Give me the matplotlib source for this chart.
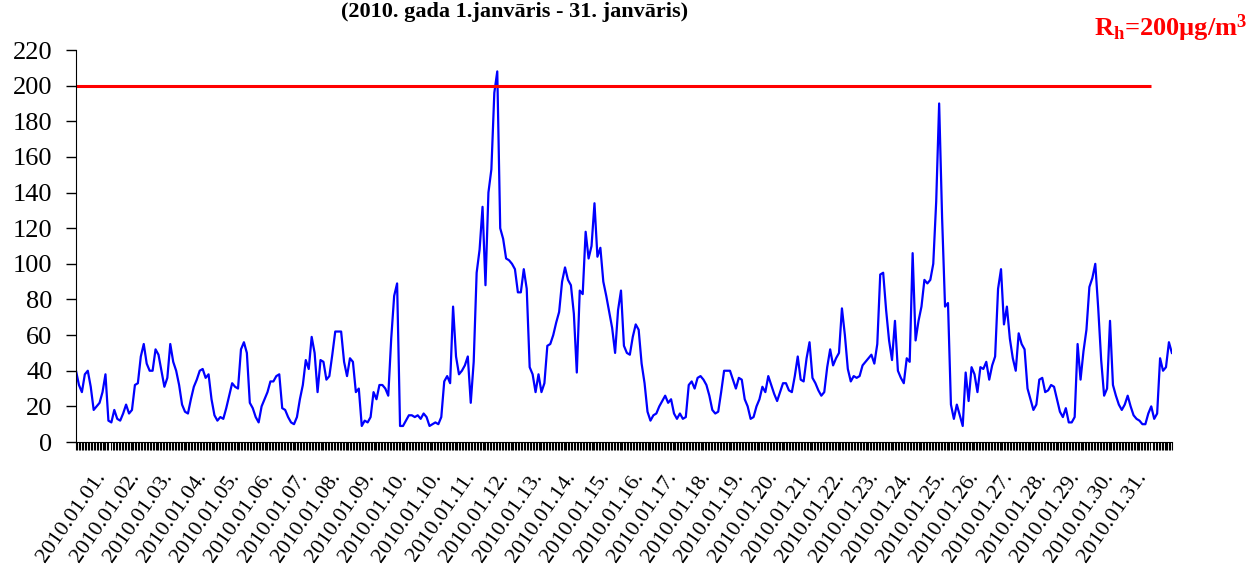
import numpy as np
import matplotlib
matplotlib.use("Agg")
import matplotlib.pyplot as plt

plt.rcParams['font.family'] = ['Liberation Serif', 'DejaVu Serif']
plt.rcParams['mathtext.fontset'] = 'custom'
plt.rcParams['mathtext.rm'] = 'Liberation Serif:bold'
plt.rcParams['mathtext.it'] = 'Liberation Serif:bold'
plt.rcParams['mathtext.bf'] = 'Liberation Serif:bold'

# NO2 hourly concentration, read every 2 hours (µg/m3)
no2 = [40, 32, 28, 38, 40, 31, 18, 20, 22, 28, 38, 12, 11, 18, 13, 12, 16, 21, 16, 18,
       32, 33, 48, 55, 44, 40, 40, 52, 49, 40, 31, 36, 55, 45, 40, 32, 21, 17, 16, 24,
       31, 35, 40, 41, 36, 38, 24, 15, 12, 14, 13, 19, 26, 33, 31, 30, 52, 56, 50, 22,
       19, 14, 11, 20, 24, 28, 34, 34, 37, 38, 19, 18, 14, 11, 10, 14, 24, 32, 46, 41,
       59, 50, 28, 46, 45, 35, 37, 49, 62, 62, 62, 45, 37, 47, 45, 28, 30, 9, 12, 11,
       14, 28, 24, 32, 32, 30, 26, 58, 82, 89, 9, 9, 12, 15, 15, 14, 15, 13, 16, 14,
       9, 10, 11, 10, 14, 34, 37, 33, 76, 48, 38, 40, 43, 48, 22, 45, 95, 108, 132, 88,
       140, 153, 196, 208, 120, 114, 103, 102, 100, 97, 84, 84, 97, 86, 42, 38, 28, 38, 28, 33,
       54, 55, 60, 67, 73, 90, 98, 91, 88, 72, 39, 85, 83, 118, 103, 110, 134, 104, 109, 90,
       82, 73, 64, 50, 74, 85, 54, 50, 49, 59, 66, 63, 44, 33, 17, 12, 15, 16, 20, 23,
       26, 22, 24, 16, 13, 16, 13, 14, 32, 34, 30, 36, 37, 35, 32, 26, 18, 16, 17, 28,
       40, 40, 40, 35, 30, 36, 35, 24, 20, 13, 14, 20, 24, 31, 28, 37, 32, 27, 23, 28,
       33, 33, 29, 28, 37, 48, 35, 34, 47, 56, 36, 33, 29, 26, 28, 42, 52, 43, 47, 50,
       75, 60, 41, 34, 37, 36, 37, 43, 45, 47, 49, 44, 55, 94, 95, 74, 57, 46, 68, 40,
       36, 33, 47, 45, 106, 57, 68, 76, 91, 89, 91, 100, 135, 190, 126, 76, 78, 21, 13, 21,
       15, 9, 39, 23, 42, 38, 28, 42, 41, 45, 35, 43, 48, 86, 97, 66, 76, 58, 47, 40,
       61, 55, 52, 30, 24, 18, 21, 35, 36, 28, 29, 32, 31, 24, 17, 14, 19, 11, 11, 14,
       55, 35, 51, 63, 87, 92, 100, 75, 46, 26, 30, 68, 32, 26, 21, 18, 21, 26, 20, 15,
       13, 12, 10, 10, 16, 20, 13, 16, 47, 40, 42, 56, 50]
step_hours = 2
limit_value = 200
day_labels = ['2010.01.%02d.' % d for d in [1, 2, 3, 4, 5, 6, 7, 8, 9, 10, 10] + list(range(11, 32))]
title = '(2010. gada 1.janvāris - 31. janvāris)'
limit_text = 'R$_\\mathrm{h}$=200µg/m$^\\mathrm{3}$'

hours = np.arange(len(no2)) * step_hours
label_pos = np.linspace(23, 730, len(day_labels))

fig = plt.figure(figsize=(12.48, 5.71), dpi=100)
ax = fig.add_axes([0.0609, 0.2259, 0.8781, 0.6865])

ax.plot(hours, no2, color='#0000ff', lw=1.6)
# limit line ends at the last labelled day
ax.hlines(limit_value, 0, label_pos[-1], color='#ff0000', lw=2.2)

ax.set_xlim(0, hours[-1])
ax.set_ylim(0, 220)
ax.set_yticks(np.arange(0, 221, 20))
ax.tick_params(axis='y', labelsize=19, length=7, width=1, pad=10)

ax.set_xticks(label_pos)
ax.set_xticklabels(day_labels, rotation=55, ha='right', va='top', fontsize=16)
ax.set_xticks(np.arange(0, hours[-1] + 1), minor=True)
ax.tick_params(axis='x', which='major', length=0, pad=19)
ax.tick_params(axis='x', which='minor', length=6, width=0.8)

for s in ['top', 'right']:
    ax.spines[s].set_visible(False)

fig.text(0.4127, 1 - 17 / 571, title, ha='center', va='baseline',
         fontsize=16, fontweight='bold')
fig.text(0.999, 0.937, limit_text, ha='right', va='baseline', color='#ff0000',
         fontsize=19, fontweight='bold')

fig.savefig('out.png', dpi=100)
